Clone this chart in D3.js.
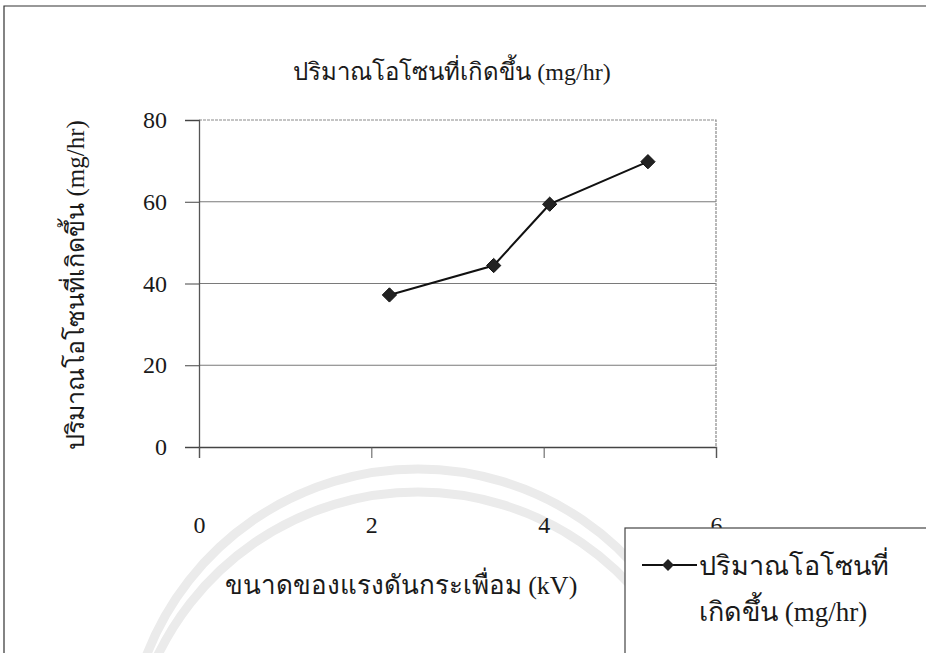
<!DOCTYPE html>
<html>
<head>
<meta charset="utf-8">
<script src="https://cdn.jsdelivr.net/npm/d3@7"></script>
<style>
  html, body { margin: 0; padding: 0; background: #fff; }
  svg { display: block; }
  text { font-family: "Liberation Serif", "Times New Roman", "DejaVu Serif", serif; fill: #1a1a1a; }
</style>
</head>
<body>
<svg id="chart" width="926" height="653"></svg>
<script>
// Ripple voltage (kV) against ozone produced (mg/hr)
const voltage = [2.21, 3.42, 4.07, 5.21];
const ozone = [37.2, 44.4, 59.4, 69.8];
const xTicks = [0, 2, 4, 6];
const yTicks = [0, 20, 40, 60, 80];
const titleText = "ปริมาณโอโซนที่เกิดขึ้น (mg/hr)";
const yLabel = "ปริมาณโอโซนที่เกิดขึ้น (mg/hr)";
const xLabel = "ขนาดของแรงดันกระเพื่อม (kV)";
const legendLines = ["ปริมาณโอโซนที่", "เกิดขึ้น (mg/hr)"];

const svg = d3.select("#chart");
const plot = { left: 199, top: 120, right: 716, bottom: 447 };

const x = d3.scaleLinear().domain([0, 6]).range([plot.left, plot.right]);
const y = d3.scaleLinear().domain([0, 80]).range([plot.bottom, plot.top]);

// faint background arcs
const bg = svg.append("g").attr("fill", "none").attr("stroke", "#ebebeb").attr("stroke-width", 9);
bg.append("path").attr("d", d3.arc()({ innerRadius: 291, outerRadius: 291, startAngle: -1.2, endAngle: 1.2 }))
  .attr("transform", "translate(418,760)");
bg.append("path").attr("d", d3.arc()({ innerRadius: 289, outerRadius: 289, startAngle: -1.2, endAngle: 1.2 }))
  .attr("transform", "translate(418,781)");

// outer chart frame
svg.append("path")
  .attr("d", "M4,653 L4,6 L926,6")
  .attr("fill", "none").attr("stroke", "#333").attr("stroke-width", 1.2);

// title
svg.append("text")
  .attr("x", 452).attr("y", 80)
  .attr("text-anchor", "middle")
  .attr("font-size", 24)
  .text(titleText);

// gridlines
svg.append("g")
  .selectAll("line")
  .data(yTicks.filter(d => d > 0 && d < 80))
  .join("line")
  .attr("x1", plot.left).attr("x2", plot.right)
  .attr("y1", d => y(d)).attr("y2", d => y(d))
  .attr("stroke", "#7a7a7a").attr("stroke-width", 1.1);

// plot border (top and right)
svg.append("path")
  .attr("d", `M${plot.left},${plot.top} L${plot.right},${plot.top} L${plot.right},${plot.bottom}`)
  .attr("fill", "none").attr("stroke", "#8a8a8a").attr("stroke-width", 1.2)
  .attr("stroke-dasharray", "3,1");

// y axis
const yAxis = svg.append("g")
  .attr("transform", `translate(${plot.left},0)`)
  .call(d3.axisLeft(y).tickValues(yTicks).tickSize(14).tickPadding(18).tickFormat(d3.format("d")));
yAxis.select(".domain").attr("stroke", "#555").attr("stroke-width", 1.3);
yAxis.selectAll(".tick line").attr("stroke", "#444");
yAxis.selectAll(".tick text").attr("font-size", 24).attr("fill", "#1a1a1a")
  .attr("font-family", "'Liberation Serif', 'Times New Roman', serif");

// x axis: ticks on the axis line, labels set well below
const xAxis = svg.append("g")
  .attr("transform", `translate(0,${plot.bottom})`)
  .call(d3.axisBottom(x).tickValues(xTicks).tickSize(11).tickPadding(58).tickFormat(d3.format("d")));
xAxis.select(".domain").attr("stroke", "#444").attr("stroke-width", 1.4);
xAxis.selectAll(".tick line").attr("stroke", "#555");
xAxis.selectAll(".tick text").attr("font-size", 24).attr("fill", "#1a1a1a")
  .attr("font-family", "'Liberation Serif', 'Times New Roman', serif");

// y axis title
svg.append("text")
  .attr("transform", "translate(84,285) rotate(-90)")
  .attr("text-anchor", "middle")
  .attr("font-size", 25)
  .text(yLabel);

// x axis title
svg.append("text")
  .attr("x", 401).attr("y", 594)
  .attr("text-anchor", "middle")
  .attr("font-size", 26)
  .text(xLabel);

// series line and markers
const pts = voltage.map((v, i) => [v, ozone[i]]);
svg.append("path")
  .datum(pts)
  .attr("d", d3.line().x(d => x(d[0])).y(d => y(d[1])))
  .attr("fill", "none").attr("stroke", "#111").attr("stroke-width", 2);

const diamond = d3.symbol().type(d3.symbolDiamond2).size(130);
svg.append("g")
  .selectAll("path")
  .data(pts)
  .join("path")
  .attr("transform", d => `translate(${x(d[0])},${y(d[1])})`)
  .attr("d", diamond)
  .attr("fill", "#222").attr("stroke", "#111").attr("stroke-width", 1);

// legend box
const lg = svg.append("g");
lg.append("rect")
  .attr("x", 625).attr("y", 528).attr("width", 320).attr("height", 140)
  .attr("fill", "#fff").attr("stroke", "#444").attr("stroke-width", 1.2);
lg.append("line")
  .attr("x1", 642).attr("x2", 697).attr("y1", 565).attr("y2", 565)
  .attr("stroke", "#111").attr("stroke-width", 2);
lg.append("path")
  .attr("transform", "translate(668,565)")
  .attr("d", d3.symbol().type(d3.symbolDiamond2).size(90))
  .attr("fill", "#222");
lg.selectAll("text")
  .data(legendLines)
  .join("text")
  .attr("x", 699)
  .attr("y", (d, i) => 575 + i * 46)
  .attr("font-size", 27)
  .text(d => d);
</script>
</body>
</html>
